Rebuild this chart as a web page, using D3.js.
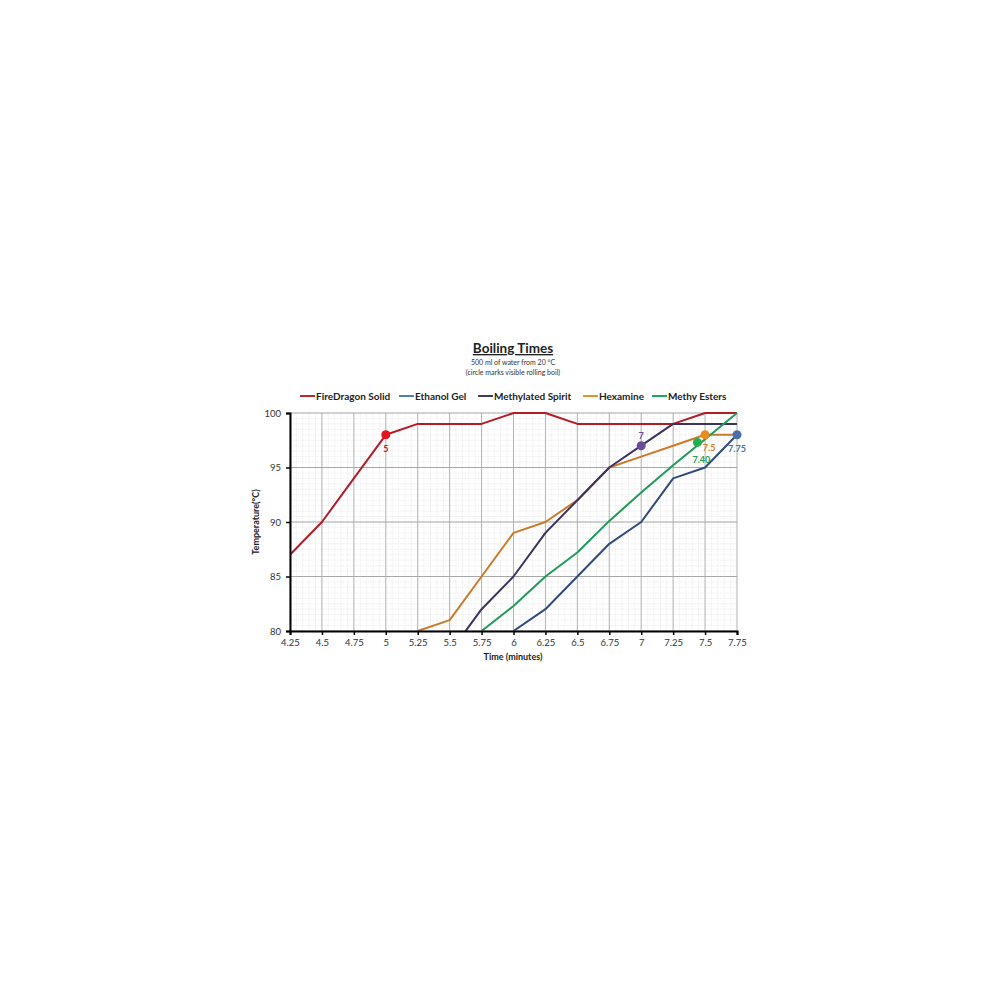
<!DOCTYPE html>
<html><head><meta charset="utf-8">
<script src="https://cdn.jsdelivr.net/npm/d3@7"></script>
<style>body{margin:0;background:#fff;} svg{display:block;}</style>
</head><body>
<svg id="chart" width="1000" height="1000"></svg>
<script>
const times = [4.25,4.5,4.75,5,5.25,5.5,5.75,6,6.25,6.5,6.75,7,7.25,7.5,7.75];
const xTickLabels = ["4.25","4.5","4.75","5","5.25","5.5","5.75","6","6.25","6.5","6.75","7","7.25","7.5","7.75"];
const yTicks = [80,85,90,95,100];
const seriesNames = ["FireDragon Solid","Ethanol Gel","Methylated Spirit","Hexamine","Methy Esters"];
const fireDragon = [87,90,94,98,99,99,99,100,100,99,99,99,99,100,100];
const ethanolGel = [null,null,null,null,null,null,null,80,82,85,88,90,94,95,98];
const methylated = [null,null,null,null,null,78,82,85,89,92,95,97,99,99,99];
const hexamine = [null,null,null,null,80,81,85,89,90,92,95,96,97,98,98];
const methyEsters = [null,null,null,null,null,null,80,82.3,85,87.2,90.1,92.7,95.2,97.6,100];
const boilTimes = [5,7.75,7,7.5,7.44];
const boilTemps = [98,98,97,98,97.3];
const boilLabels = ["5","7.75","7","7.5","7.40"];
const lineColors = ["#b31b27","#2f4b7c","#3a335f","#cc7a2a","#1f9a57"];
const legendColors = ["#c0282f","#4f7fb8","#403b66","#e0962e","#22a066"];
const markerColors = ["#e0161c","#4a6ea8","#6a4d96","#ec8a1f","#22b04e"];
const labelColors = ["#c8161c","#4a6ea8","#6a4d96","#d0801c","#1f9a57"];

const allSeries = [fireDragon,ethanolGel,methylated,hexamine,methyEsters];
const svg = d3.select("#chart");
const font = "Lato, 'Open Sans', sans-serif";
const L=290,R=737,T=413,B=631;
const x = d3.scaleLinear().domain([4.25,7.75]).range([L,R]);
const y = d3.scaleLinear().domain([80,100]).range([B,T]);

// minor grid
const g = svg.append("g");
const minorX = d3.range(4.25,7.7501,0.05);
const minorY = d3.range(80,100.001,0.5);
g.selectAll(".mx").data(minorX).join("line").attr("x1",d=>x(d)).attr("x2",d=>x(d)).attr("y1",T).attr("y2",B)
 .attr("stroke","#e4e4e4").attr("stroke-width",0.6).attr("stroke-dasharray","1.5,1");
g.selectAll(".my").data(minorY).join("line").attr("y1",d=>y(d)).attr("y2",d=>y(d)).attr("x1",L).attr("x2",R)
 .attr("stroke","#e4e4e4").attr("stroke-width",0.6).attr("stroke-dasharray","1.5,1");
// major grid
g.selectAll(".gx").data(times).join("line").attr("x1",d=>x(d)).attr("x2",d=>x(d)).attr("y1",T).attr("y2",B)
 .attr("stroke","#b4b4b4").attr("stroke-width",1);
g.selectAll(".gy").data(yTicks).join("line").attr("y1",d=>y(d)).attr("y2",d=>y(d)).attr("x1",L).attr("x2",R)
 .attr("stroke","#a8a8a8").attr("stroke-width",1);

// clip
svg.append("clipPath").attr("id","clip").append("rect").attr("x",L).attr("y",T-3).attr("width",R-L+3).attr("height",B-T+3);

const line = d3.line().defined(d=>d[1]!=null).x(d=>x(d[0])).y(d=>y(d[1]));
const order = [0,3,2,4,1];
order.forEach(i=>{
  svg.append("path").attr("clip-path","url(#clip)")
   .attr("d",line(times.map((t,k)=>[t,allSeries[i][k]])))
   .attr("fill","none").attr("stroke",lineColors[i]).attr("stroke-width",2).attr("stroke-linejoin","round");
});

// axes
const xAxis = d3.axisBottom(x).tickValues(times).tickFormat((d,i)=>xTickLabels[i]).tickSize(4).tickPadding(4);
const yAxis = d3.axisLeft(y).tickValues(yTicks).tickSize(4).tickPadding(5);
const ax = svg.append("g").attr("transform",`translate(0,${B})`).call(xAxis);
const ay = svg.append("g").attr("transform",`translate(${L},0)`).call(yAxis);
[ax,ay].forEach(a=>{
  a.select(".domain").attr("stroke","#000").attr("stroke-width",2);
  a.selectAll(".tick line").attr("stroke","#000").attr("stroke-width",1.5);
  a.selectAll("text").attr("font-family",font).attr("font-size",9.5).attr("fill","#333");
});

// markers
[0,2,4,3,1].forEach(i=>{
  svg.append("circle").attr("cx",x(boilTimes[i])).attr("cy",y(boilTemps[i])).attr("r",4.5).attr("fill",markerColors[i]);
});
const labelOffsets = [[0,17],[0,17],[0,-7],[4,16],[4,21]];
[0,1,2,3,4].forEach(i=>{
  svg.append("text").attr("x",x(boilTimes[i])+labelOffsets[i][0]).attr("y",y(boilTemps[i])+labelOffsets[i][1])
   .attr("text-anchor","middle").attr("font-family",font).attr("font-weight","bold").attr("font-size",9)
   .attr("fill",labelColors[i]).text(boilLabels[i]);
});

// titles
svg.append("text").attr("x",513).attr("y",353).attr("text-anchor","middle").attr("font-family",font)
 .attr("font-weight","bold").attr("font-size",13.5).attr("fill","#222").attr("text-decoration","underline").text("Boiling Times");
svg.append("text").attr("x",513).attr("y",365).attr("text-anchor","middle").attr("font-family",font)
 .attr("font-size",7).attr("fill","#333").text("500  ml of water  from 20 °C");
svg.append("text").attr("x",513).attr("y",375).attr("text-anchor","middle").attr("font-family",font)
 .attr("font-size",7).attr("fill","#333").text("(circle marks visible rolling boil)");
svg.append("text").attr("x",513).attr("y",660).attr("text-anchor","middle").attr("font-family",font)
 .attr("font-weight","bold").attr("font-size",9).attr("fill","#222").text("Time (minutes)");
svg.append("text").attr("transform","translate(259,522) rotate(-90)").attr("text-anchor","middle").attr("font-family",font)
 .attr("font-weight","bold").attr("font-size",9).attr("fill","#222").text("Temperature(°C)");

// legend
const legX = [300,399,478,583,652];
seriesNames.forEach((n,i)=>{
  svg.append("line").attr("x1",legX[i]).attr("x2",legX[i]+15).attr("y1",396).attr("y2",396)
   .attr("stroke",legendColors[i]).attr("stroke-width",2);
  svg.append("text").attr("x",legX[i]+16).attr("y",399.5).attr("font-family",font).attr("font-weight","bold")
   .attr("font-size",10).attr("fill","#222").text(n);
});
</script>
</body></html>
